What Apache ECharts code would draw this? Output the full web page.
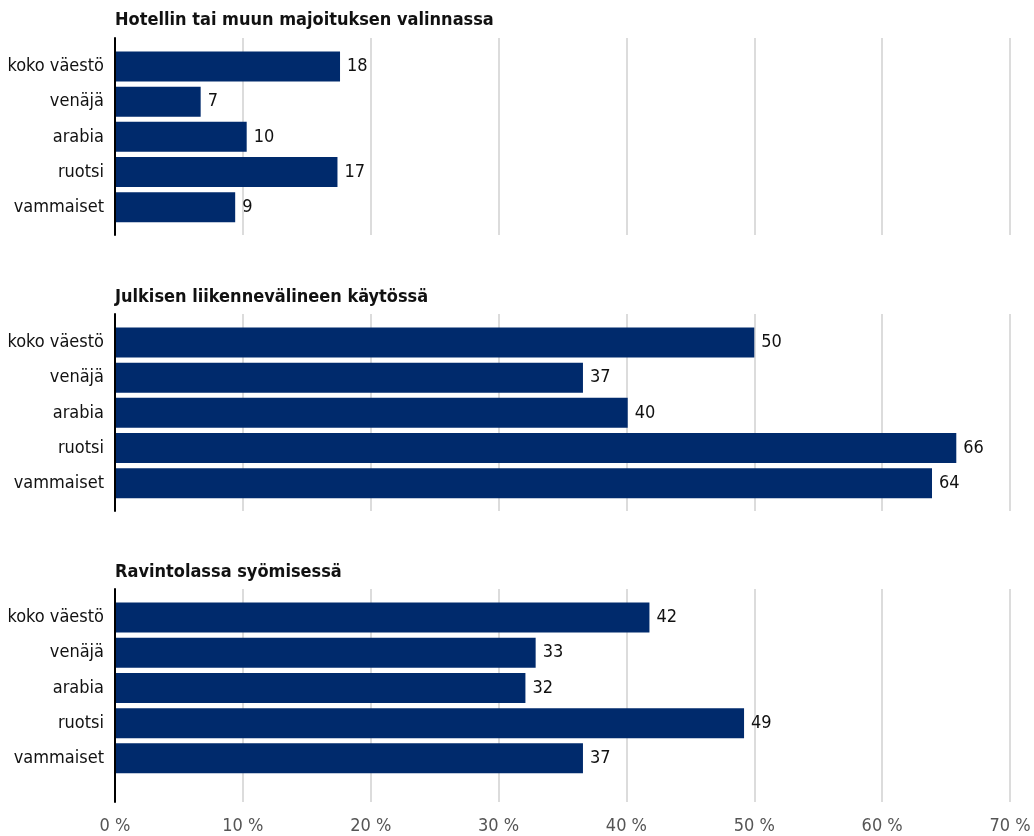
<!DOCTYPE html>
<html>
<head>
<meta charset="utf-8">
<script src="https://cdn.jsdelivr.net/npm/echarts@6/dist/echarts.min.js"></script>
<style>
  html, body { margin: 0; padding: 0; background: #fff; }
  #chart { width: 1034px; height: 836px; }
</style>
</head>
<body>
<div id="chart"></div>
<script>
// groups shown on each panel (top to bottom)
const groups = ["koko väestö", "venäjä", "arabia", "ruotsi", "vammaiset"];

const panelTitles = [
  "Hotellin tai muun majoituksen valinnassa",
  "Julkisen liikennevälineen käytössä",
  "Ravintolassa syömisessä",
];

// shares in percent
const hotelValues = [17.6, 6.7, 10.3, 17.4, 9.4];
const transportValues = [50.0, 36.6, 40.1, 65.8, 63.9];
const restaurantValues = [41.8, 32.9, 32.1, 49.2, 36.6];

const xTicks = [0, 10, 20, 30, 40, 50, 60, 70];

const FONT = '"Liberation Sans Narrow", "DejaVu Sans Condensed", "Roboto", sans-serif';
const BAR_COLOR = "#002a6c";

const chart = echarts.init(document.getElementById("chart"));

// layout of each panel: grid top / height, and y range in category-index units
const panels = [
  { values: hotelValues, top: 38, height: 197, min: -0.81, max: 4.79, titleTop: 6 },
  { values: transportValues, top: 314, height: 197, min: -0.81, max: 4.79, titleTop: 283 },
  { values: restaurantValues, top: 589, height: 213, min: -0.81, max: 5.24, titleTop: 558 },
];

const renderBar = (params, api) => {
  const idx = api.value(1);
  const val = api.value(0);
  const start = api.coord([0, idx]);
  const end = api.coord([val, idx]);
  const h = 30;
  return {
    type: "rect",
    shape: { x: start[0] + 1, y: start[1] - h / 2, width: end[0] - start[0] - 1, height: h },
    style: { fill: BAR_COLOR },
    textContent: {
      style: {
        text: String(Math.round(val)),
        fill: "#111",
        fontSize: 18,
        fontFamily: FONT,
      },
    },
    textConfig: { position: "right", distance: 7 },
  };
};

const option = {
  backgroundColor: "#fff",
  animation: false,
  title: panels.map((p, i) => ({
    text: panelTitles[i],
    left: 110,
    top: p.titleTop,
    textStyle: { fontSize: 18, fontWeight: "bold", color: "#111", fontFamily: FONT },
  })),
  grid: panels.map((p) => ({ left: 115, right: 24, top: p.top, height: p.height })),
  xAxis: panels.map((p, i) => ({
    type: "value",
    gridIndex: i,
    min: 0,
    max: 70,
    interval: 10,
    axisLine: { show: false },
    axisTick: { show: false },
    splitLine: { show: true, lineStyle: { color: "#dcdcdc", width: 2 } },
    axisLabel: {
      show: i === 2,
      margin: 15,
      fontSize: 18,
      color: "#555",
      fontFamily: FONT,
      formatter: (v) => (xTicks.includes(v) ? v + " %" : ""),
    },
  })),
  yAxis: panels.map((p, i) => ({
    type: "value",
    gridIndex: i,
    inverse: true,
    min: p.min,
    max: p.max,
    axisLine: { show: true, onZero: false, lineStyle: { color: "#000", width: 2 } },
    axisTick: { show: false },
    splitLine: { show: false },
    axisLabel: {
      customValues: groups.map((g, k) => k),
      margin: 11,
      fontSize: 18,
      color: "#111",
      fontFamily: FONT,
      formatter: (v) => (Number.isInteger(v) && groups[v] ? groups[v] : ""),
    },
  })),
  series: panels.map((p, i) => ({
    type: "custom",
    xAxisIndex: i,
    yAxisIndex: i,
    renderItem: renderBar,
    encode: { x: 0, y: 1 },
    data: p.values.map((v, k) => [v, k]),
    clip: false,
  })),
};

chart.setOption(option);
</script>
</body>
</html>
